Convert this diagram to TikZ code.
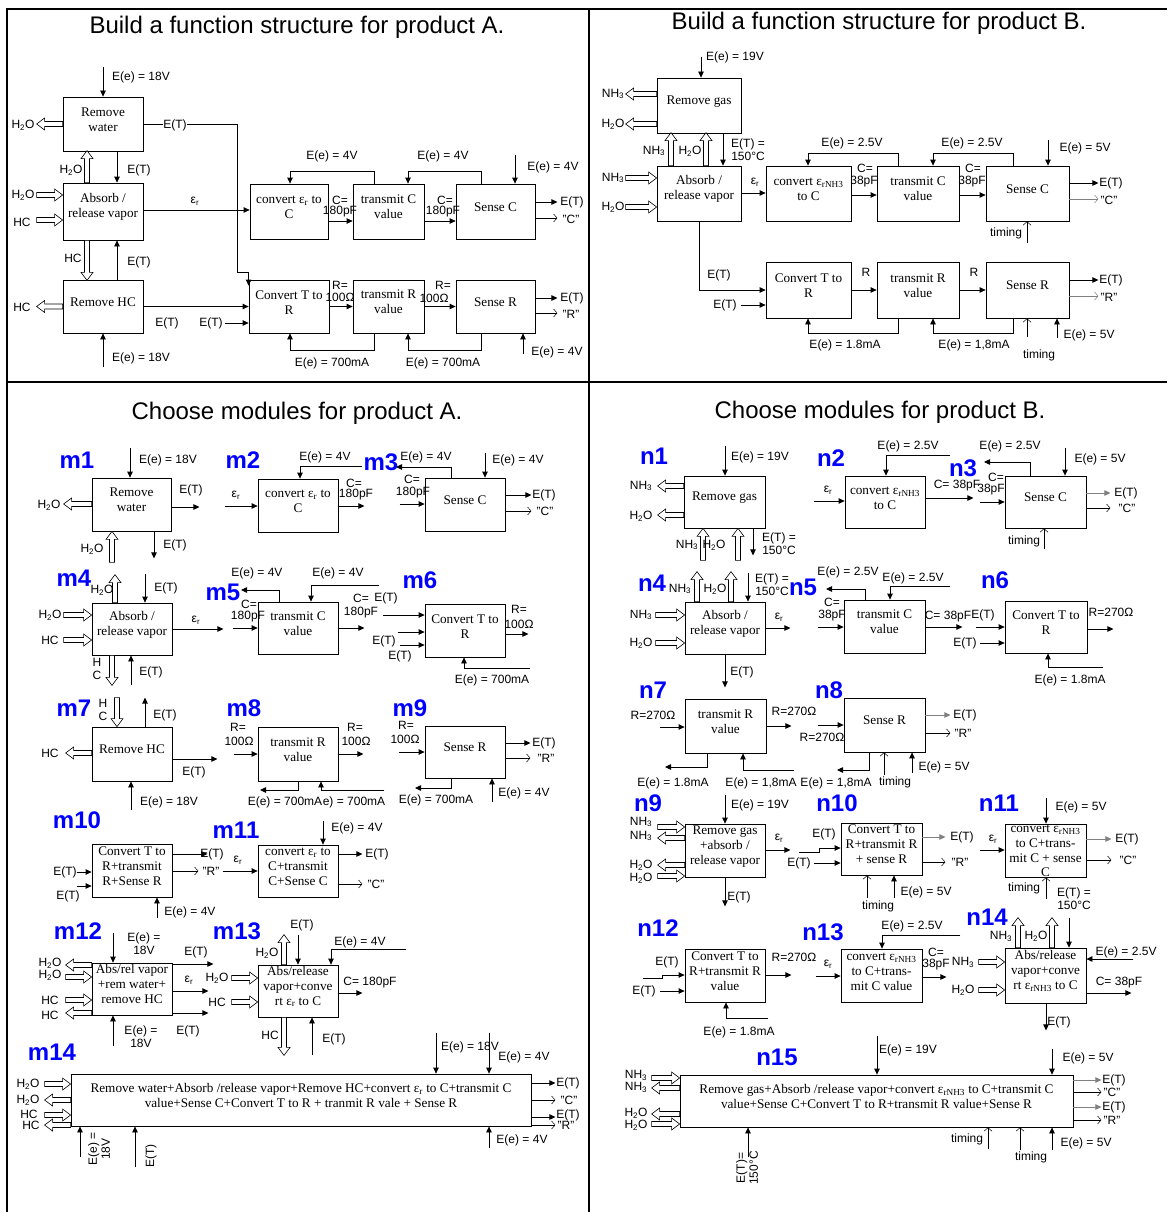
\documentclass[tikz,border=0pt]{standalone}
\usepackage{fontspec}
\setmainfont{Liberation Serif}
\setsansfont{Liberation Sans}
\usepackage{xcolor}
\usetikzlibrary{arrows.meta, calc, fit}
\definecolor{modblue}{RGB}{0,0,255}
\definecolor{outgray}{RGB}{128,128,128}
\newcommand\lf{\sffamily\fontsize{12}{13}\selectfont}
\newcommand\bxf{\rmfamily\fontsize{13.2}{15}\selectfont}
\newcommand\titlef{\sffamily\fontsize{24}{26}\selectfont}
\newcommand\modf{\sffamily\bfseries\fontsize{24}{26}\selectfont}
\newcommand\wat{H\textsubscript{2}O}
\newcommand\amm{NH\textsubscript{3}}
\newcommand\epsr{ε\textsubscript{r}}
\newcommand\epsn{ε\textsubscript{rNH3}}
% hollow material flow arrow from tail #1 to head #2
\newcommand\mfdraw[2]{%
  \coordinate (mfb) at ($(#2)!8pt!(#1)$);
  \draw[flowline] ($(#1)!2.5pt!90:(#2)$) -- ($(mfb)!2.5pt!-90:(#1)$) -- ($(mfb)!6pt!-90:(#1)$) -- (#2)
    -- ($(mfb)!6pt!90:(#1)$) -- ($(mfb)!2.5pt!90:(#1)$) -- ($(#1)!2.5pt!-90:(#2)$) -- cycle;}
\newcommand\flowin[2]{\coordinate (mfh) at (#1); \coordinate (mft) at ($(mfh)+(#2)$); \mfdraw{mft}{mfh}}
\newcommand\flowout[2]{\coordinate (mft) at (#1); \coordinate (mfh) at ($(mft)+(#2)$); \mfdraw{mft}{mfh}}
\tikzset{
  blk/.style={draw, line width=0.8pt, inner sep=0pt, align=center, font=\bxf},
  boxtxt/.style={inner sep=0pt, align=center, font=\bxf},
  lbl/.style={inner sep=0.5pt, align=center, font=\lf},
  modlbl/.style={inner sep=0pt, font=\modf, text=modblue},
  ttl/.style={inner sep=0pt, font=\titlef},
  arr/.style={line width=0.8pt, -{Triangle[length=6pt,width=5.5pt]}},
  sig/.style={line width=0.5pt, -{Straight Barb[length=3.5pt,width=8pt]}},
  flowline/.style={line width=0.6pt, fill=white},
  frame/.style={line width=2pt},
}
\begin{document}
\begin{tikzpicture}[x=1pt, y=-1pt]
\fill[white] (0,0) rectangle (1167,1212);
\useasboundingbox (0,0) rectangle (1167,1212);
\draw[frame] (7,1212) -- (7,9) -- (1167,9);
\draw[frame] (589,9) -- (589,1212);
\draw[frame] (7,382) -- (1167,382);

% Product A -- function structure
\node[ttl] (tA) at (297,27) {Build a function structure for product A.};
\node[blk, fit={(63,97) (143,151)}] (rw) {Remove\\water};
\node[blk, fit={(63,183) (143,240)}] (ab) {Absorb /\\release vapor};
\node[blk, fit={(63,280) (143,333)}] (rh) {Remove HC};
\node[blk, fit={(250,184) (328,239)}] (cc) {convert \epsr{} to\\C};
\node[blk, fit={(353,184) (424,239)}] (tc) {transmit C\\value};
\node[blk, fit={(456,184) (535,239)}] (sc) {Sense C};
\node[blk, fit={(249,280) (329,333)}] (ct) {Convert T to\\R};
\node[blk, fit={(353,280) (424,333)}] (tr) {transmit R\\value};
\node[blk, fit={(456,280) (535,333)}] (sr) {Sense R};

\draw[arr] ($(rw.north)+(0,-30)$) -- (rw.north);
\flowout{rw.west}{-26,0}
\draw[arr] (rw.east) -| (237,272) -| ([yshift=-6pt]ct.north west);
\draw[arr] (rw.south -| 117,0) -- (ab.north -| 117,0);
\flowout{ab.north -| 87,0}{0,-32}
\flowin{ab.west |- 0,195}{-26,0}
\flowin{ab.west |- 0,220}{-26,0}
\draw[arr] (ab.east |- 0,210) -- (cc.west |- 0,210);
\flowout{ab.south -| 87,0}{0,40}
\draw[arr] (rh.north -| 117,0) -- (ab.south -| 117,0);
\flowout{rh.west}{-26,0}
\draw[arr] (rh.east) -- (ct.west |- rh.east);
\draw[arr] ($(ct.west |- 0,323)+(-24,0)$) -- (ct.west |- 0,323);
\draw[arr] ($(rh.south)+(0,34)$) -- (rh.south);
\draw[arr] (tc.north -| 374,0) |- (290,171) -- (cc.north -| 290,0);
\draw[arr] (cc.east |- 0,221) -- (tc.west |- 0,221);
\draw[arr] (sc.north -| 481,0) |- (408,171) -- (tc.north -| 408,0);
\draw[arr] (tc.east |- 0,221) -- (sc.west |- 0,221);
\draw[arr] ($(sc.north -| 515,0)+(0,-29)$) -- (sc.north -| 515,0);
\draw[arr] (sc.east |- 0,202) -- ++(22,0);
\draw[sig] (sc.east |- 0,218) -- ++(22,0);
\draw[arr] (ct.east) -- (tr.west |- ct.east);
\draw[arr] (tr.east) -- (sr.west |- tr.east);
\draw[arr] (sr.east |- 0,298) -- ++(22,0);
\draw[sig] (sr.east |- 0,313) -- ++(22,0);
\draw[arr] (tr.south -| 374,0) |- (290,350) -- (ct.south -| 290,0);
\draw[arr] (sr.south -| 481,0) |- (408,350) -- (tr.south -| 408,0);
\draw[arr] ($(sr.south -| 523,0)+(0,21)$) -- (sr.south -| 523,0);

\node[lbl] (p1) at (141,77) {E(e) = 18V};
\node[lbl] (p2) at (23,125) {\wat};
\node[lbl, fill=white] (p3) at (175,125) {E(T)};
\node[lbl] (p4) at (139,170) {E(T)};
\node[lbl] (p5) at (71,170) {\wat};
\node[lbl] (p6) at (23,195) {\wat};
\node[lbl] (p7) at (22,222) {HC};
\node[lbl] (p8) at (195,201) {\epsr};
\node[lbl] (p9) at (73,258) {HC};
\node[lbl] (p10) at (139,262) {E(T)};
\node[lbl] (p11) at (22,307) {HC};
\node[lbl] (p12) at (167,323) {E(T)};
\node[lbl] (p13) at (211,323) {E(T)};
\node[lbl] (p14) at (141,358) {E(e) = 18V};
\node[lbl] (p15) at (332,156) {E(e) = 4V};
\node[lbl] (p16) at (340,200) {C=};
\node[lbl] (p17) at (340,212) {180pF};
\node[lbl] (p18) at (443,156) {E(e) = 4V};
\node[lbl] (p19) at (445,200) {C=};
\node[lbl] (p20) at (443,212) {180pF};
\node[lbl] (p21) at (553,167) {E(e) = 4V};
\node[lbl] (p22) at (572,202) {E(T)};
\node[lbl] (p23) at (571,219) {"C"};
\node[lbl] (p24) at (340,285) {R=};
\node[lbl] (p25) at (340,297) {100Ω};
\node[lbl] (p26) at (443,285) {R=};
\node[lbl] (p27) at (434,298) {100Ω};
\node[lbl] (p28) at (572,298) {E(T)};
\node[lbl] (p29) at (571,314) {"R"};
\node[lbl] (p30) at (332,363) {E(e) = 700mA};
\node[lbl] (p31) at (443,363) {E(e) = 700mA};
\node[lbl] (p32) at (557,352) {E(e) = 4V};

% Product B -- function structure
\node[ttl] (tB) at (879,23) {Build a function structure for product B.};
\node[blk, fit={(657,78) (741,133)}] (rg) {Remove gas};
\node[blk, fit={(657,166) (741,221)}] (ag) {Absorb /\\release vapor};
\node[blk, fit={(766,166) (851,221)}] (cn) {convert \epsn\\to C};
\node[blk, fit={(877,166) (959,221)}] (tcb) {transmit C\\value};
\node[blk, fit={(986,166) (1069,221)}] (scb) {Sense C};
\node[blk, fit={(766,262) (851,318)}] (ctb) {Convert T to\\R};
\node[blk, fit={(877,262) (959,318)}] (trb) {transmit R\\value};
\node[blk, fit={(986,262) (1069,318)}] (srb) {Sense R};

\draw[arr] ($(rg.north -| 701,0)+(0,-21)$) -- (rg.north -| 701,0);
\flowout{rg.west |- 0,94}{-31,0}
\flowout{rg.west |- 0,124}{-31,0}
\flowout{ag.north -| 671,0}{0,-33}
\flowout{ag.north -| 706,0}{0,-33}
\draw[arr] (rg.south -| 723,0) -- (ag.north -| 723,0);
\flowin{ag.west |- 0,178}{-31,0}
\flowin{ag.west |- 0,207}{-31,0}
\draw[arr] (ag.east |- 0,193) -- (cn.west |- 0,193);
\draw[arr] (tcb.north -| 898,0) |- (808,153) -- (cn.north -| 808,0);
\draw[arr] (cn.east |- 0,195) -- (tcb.west |- 0,195);
\draw[arr] (scb.north -| 1013,0) |- (933,153) -- (tcb.north -| 933,0);
\draw[arr] (tcb.east |- 0,195) -- (scb.west |- 0,195);
\draw[arr] ($(scb.north -| 1048,0)+(0,-26)$) -- (scb.north -| 1048,0);
\draw[arr] (scb.east |- 0,183) -- ++(29,0);
\draw[sig, outgray] (scb.east |- 0,199) -- ++(29,0);
\draw[sig] ($(scb.south -| 1027,0)+(0,22)$) -- (scb.south -| 1027,0);
\draw[arr] (ag.south) |- (ctb.west |- 0,290);
\draw[arr] ($(ctb.west |- 0,305)+(-25,0)$) -- (ctb.west |- 0,305);
\draw[arr] (ctb.east |- 0,290) -- (trb.west |- 0,290);
\draw[arr] (trb.east |- 0,290) -- (srb.west |- 0,290);
\draw[arr] (trb.south -| 898,0) |- (808,333) -- (ctb.south -| 808,0);
\draw[arr] (srb.south -| 1013,0) |- (933,333) -- (trb.south -| 933,0);
\draw[sig] ($(srb.south -| 1027,0)+(0,19)$) -- (srb.south -| 1027,0);
\draw[arr] ($(srb.south -| 1057,0)+(0,20)$) -- (srb.south -| 1057,0);
\draw[arr] (srb.east |- 0,280) -- ++(29,0);
\draw[sig, outgray] (srb.east |- 0,296) -- ++(29,0);

\node[lbl] (q1) at (735,57) {E(e) = 19V};
\node[lbl] (q2) at (613,94) {\amm};
\node[lbl] (q3) at (613,124) {\wat};
\node[lbl] (q4) at (654,151) {\amm};
\node[lbl] (q5) at (690,151) {\wat};
\node[lbl] (q6) at (748,150) {E(T) =\\150°C};
\node[lbl] (q7) at (613,178) {\amm};
\node[lbl] (q8) at (613,207) {\wat};
\node[lbl] (q9) at (755,182) {\epsr};
\node[lbl] (q10) at (852,143) {E(e) = 2.5V};
\node[lbl] (q11) at (865,168) {C=};
\node[lbl] (q12) at (864,182) {38pF};
\node[lbl] (q13) at (972,143) {E(e) = 2.5V};
\node[lbl] (q14) at (973,168) {C=};
\node[lbl] (q15) at (972,182) {38pF};
\node[lbl] (q16) at (1085,148) {E(e) = 5V};
\node[lbl] (q17) at (1111,183) {E(T)};
\node[lbl] (q18) at (1109,200) {"C"};
\node[lbl] (q19) at (1006,233) {timing};
\node[lbl] (q20) at (719,275) {E(T)};
\node[lbl] (q21) at (725,305) {E(T)};
\node[lbl] (q22) at (866,272) {R};
\node[lbl] (q23) at (974,272) {R};
\node[lbl] (q24) at (845,345) {E(e) = 1.8mA};
\node[lbl] (q25) at (974,345) {E(e) = 1,8mA};
\node[lbl] (q26) at (1039,355) {timing};
\node[lbl] (q27) at (1089,335) {E(e) = 5V};
\node[lbl] (q28) at (1111,280) {E(T)};
\node[lbl] (q29) at (1109,297) {"R"};

% Product A -- modules
\node[ttl] (tmA) at (297,413) {Choose modules for product A.};
\node[blk, fit={(92,478) (171,531)}] (m1b) {Remove\\water};
\node[blk, fit={(258,479) (338,532)}] (m2b) {convert \epsr{} to\\C};
\node[blk, fit={(425,478) (505,531)}] (m3b) {Sense C};
\node[blk, fit={(92,603) (172,655)}] (m4b) {Absorb /\\release vapor};
\node[blk, fit={(258,602) (338,654)}] (m5b) {transmit C\\value};
\node[blk, fit={(425,604) (505,657)}] (m6b) {Convert T to\\R};
\node[blk, fit={(92,727) (172,781)}] (m7b) {Remove HC};
\node[blk, fit={(258,727) (338,781)}] (m8b) {transmit R\\value};
\node[blk, fit={(425,726) (505,778)}] (m9b) {Sense R};
\node[blk, fit={(92,844) (172,897)}] (m10b) {Convert T to\\R+transmit\\R+Sense R};
\node[blk, fit={(258,845) (338,897)}] (m11b) {convert \epsr{} to\\C+transmit\\C+Sense C};
\node[blk, fit={(92,963) (172,1015)}] (m12b) {Abs/rel vapor\\+rem water+\\remove HC};
\node[blk, fit={(258,965) (338,1017)}] (m13b) {Abs/release\\vapor+conve\\rt \epsr{} to C};
\node[blk, fit={(71,1074) (531,1126)}] (m14b) {Remove water+Absorb /release vapor+Remove HC+convert \epsr{} to C+transmit C\\value+Sense C+Convert T to R + tranmit R vale + Sense R};

% m1 - m3
\draw[arr] ($(m1b.north -| 130,0)+(0,-30)$) -- (m1b.north -| 130,0);
\flowout{m1b.west |- 0,504}{-28,0}
\draw[arr] (m1b.east |- 0,507) -- ++(28,0);
\flowin{m1b.south -| 112,0}{0,31}
\draw[arr] (m1b.south -| 154,0) -- ++(0,27);
\draw[arr] ($(m2b.west |- 0,506)+(-33,0)$) -- (m2b.west |- 0,506);
\draw[arr] ($(m2b.north east)+(24,-12)$) -| (m2b.north -| 300,0);
\draw[arr] (m2b.east |- 0,506) -- ++(26,0);
\draw[arr] (m3b.north -| 451,0) |- (396,467);
\draw[arr] ($(m3b.west |- 0,504)+(-25,0)$) -- (m3b.west |- 0,504);
\draw[arr] ($(m3b.north -| 485,0)+(0,-25)$) -- (m3b.north -| 485,0);
\draw[arr] (m3b.east |- 0,495) -- ++(26,0);
\draw[sig] (m3b.east |- 0,511) -- ++(26,0);
% m4 - m6
\flowout{m4b.north -| 115,0}{0,-28}
\draw[arr] ($(m4b.north -| 145,0)+(0,-29)$) -- (m4b.north -| 145,0);
\flowin{m4b.west |- 0,615}{-28,0}
\flowin{m4b.west |- 0,640}{-28,0}
\draw[arr] (m4b.east |- 0,629) -- ++(51,0);
\flowout{m4b.south -| 112,0}{0,30}
\draw[arr] ($(m4b.south -| 131,0)+(0,30)$) -- (m4b.south -| 131,0);
\draw[arr] (m5b.north -| 279,0) |- (241,590);
\draw[arr] ($(m5b.north east)+(41,-16)$) -| (m5b.north -| 311,0);
\draw[arr] ($(m5b.west |- 0,628)+(-25,0)$) -- (m5b.west |- 0,628);
\draw[arr] (m5b.east |- 0,628) -- ++(26,0);
\draw[arr] ($(m6b.west |- 0,615)+(-42,0)$) -- (m6b.west |- 0,615);
\draw[arr] ($(m6b.west |- 0,632)+(-27,0)$) -- (m6b.west |- 0,632);
\draw[arr] ($(m6b.west |- 0,645)+(-25,0)$) -- (m6b.west |- 0,645);
\draw[arr] (m6b.east |- 0,634) -- ++(23,0);
\draw[arr] ($(m6b.south east)+(25,11)$) -| (m6b.south -| 464,0);
% m7 - m9
\flowin{m7b.north -| 117,0}{0,-29}
\draw[arr] (m7b.north -| 145,0) -- ++(0,-29);
\flowout{m7b.west |- 0,753}{-26,0}
\draw[arr] (m7b.east |- 0,759) -- ++(45,0);
\draw[arr] ($(m7b.south -| 131,0)+(0,29)$) -- (m7b.south -| 131,0);
\draw[arr] ($(m8b.west |- 0,754)+(-24,0)$) -- (m8b.west |- 0,754);
\draw[arr] (m8b.east |- 0,754) -- ++(25,0);
\draw[arr] (m8b.south -| 298,0) |- (260,790);
\draw[arr] ($(m8b.south east)+(46,9)$) -| (m8b.south -| 321,0);
\draw[arr] ($(m9b.west |- 0,752)+(-26,0)$) -- (m9b.west |- 0,752);
\draw[arr] (m9b.east |- 0,743) -- ++(25,0);
\draw[sig] (m9b.east |- 0,758) -- ++(25,0);
\draw[arr] (m9b.south -| 451,0) |- (415,788);
\draw[arr] ($(m9b.south -| 492,0)+(0,24)$) -- (m9b.south -| 492,0);
% m10 - m11
\draw[arr] (m10b.east |- 0,854) -- ++(35,0);
\draw[sig] (m10b.east |- 0,871) -- ++(26,0);
\draw[arr] ($(m10b.west |- 0,872)+(-15,0)$) -- (m10b.west |- 0,872);
\draw[arr] ($(m10b.west |- 0,886)+(-15,0)$) -- (m10b.west |- 0,886);
\draw[arr] ($(m10b.south -| 157,0)+(0,21)$) -- (m10b.south -| 157,0);
\draw[arr] ($(m11b.west |- 0,871)+(-35,0)$) -- (m11b.west |- 0,871);
\draw[arr] ($(m11b.north -| 323,0)+(0,-24)$) -- (m11b.north -| 323,0);
\draw[arr] (m11b.east |- 0,854) -- ++(24,0);
\draw[sig] (m11b.east |- 0,884) -- ++(24,0);
% m12 - m13
\draw[arr] ($(m12b.north -| 113,0)+(0,-30)$) -- (m12b.north -| 113,0);
\draw[arr] (m12b.east |- 0,964) -- ++(41,0);
\draw[arr] (m12b.east |- 0,991) -- ++(36,0);
\draw[arr] (m12b.east |- 0,1013) -- ++(36,0);
\flowout{m12b.west |- 0,965}{-26,0}
\flowin{m12b.west |- 0,977}{-26,0}
\flowin{m12b.west |- 0,1000}{-26,0}
\flowout{m12b.west |- 0,1013}{-26,0}
\draw[arr] ($(m12b.south -| 113,0)+(0,31)$) -- (m12b.south -| 113,0);
\flowout{m13b.north -| 284,0}{0,-30}
\draw[arr] ($(m13b.north -| 298,0)+(0,-30)$) -- (m13b.north -| 298,0);
\draw[arr] ($(m13b.north east)+(68,-15)$) -| (m13b.north -| 331,0);
\draw[arr] (m13b.east |- 0,993) -- ++(24,0);
\flowin{m13b.west |- 0,978}{-26,0}
\flowin{m13b.west |- 0,1002}{-26,0}
\flowout{m13b.south -| 284,0}{0,38}
\draw[arr] ($(m13b.south -| 312,0)+(0,38)$) -- (m13b.south -| 312,0);
% m14
\draw[arr] ($(m14b.north -| 436,0)+(0,-41)$) -- (m14b.north -| 436,0);
\draw[arr] ($(m14b.north -| 489,0)+(0,-41)$) -- (m14b.north -| 489,0);
\draw[arr] (m14b.east |- 0,1083) -- ++(24,0);
\draw[sig] (m14b.east |- 0,1100) -- ++(24,0);
\draw[arr] (m14b.east |- 0,1117) -- ++(24,0);
\draw[sig] (m14b.east |- 0,1125) -- ++(24,0);
\flowin{m14b.west |- 0,1084}{-26,0}
\flowout{m14b.west |- 0,1100}{-26,0}
\flowin{m14b.west |- 0,1115}{-26,0}
\flowout{m14b.west |- 0,1125}{-26,0}
\draw[arr] ($(m14b.south -| 80,0)+(0,31)$) -- (m14b.south -| 80,0);
\draw[arr] ($(m14b.south -| 135,0)+(0,41)$) -- (m14b.south -| 135,0);
\draw[arr] ($(m14b.south -| 489,0)+(0,22)$) -- (m14b.south -| 489,0);

\node[modlbl] (m1) at (77,460) {m1};
\node[lbl] (m1a) at (168,460) {E(e) = 18V};
\node[lbl] (m1c) at (49,505) {\wat};
\node[lbl] (m1d) at (191,490) {E(T)};
\node[lbl] (m1e) at (92,549) {\wat};
\node[lbl] (m1f) at (175,545) {E(T)};
\node[modlbl] (m2) at (243,460) {m2};
\node[lbl] (m2a) at (236,495) {\epsr};
\node[lbl] (m2c) at (325,457) {E(e) = 4V};
\node[lbl] (m2d) at (354,483) {C=};
\node[lbl] (m2e) at (356,495) {180pF};
\node[modlbl] (m3) at (381,462) {m3};
\node[lbl] (m3a) at (426,457) {E(e) = 4V};
\node[lbl] (m3c) at (412,479) {C=};
\node[lbl] (m3d) at (413,493) {180pF};
\node[lbl] (m3e) at (518,460) {E(e) = 4V};
\node[lbl] (m3f) at (544,495) {E(T)};
\node[lbl] (m3g) at (545,511) {"C"};
\node[modlbl] (m4) at (74,578) {m4};
\node[lbl] (m4a) at (102,590) {\wat};
\node[lbl] (m4c) at (166,588) {E(T)};
\node[lbl] (m4d) at (50,615) {\wat};
\node[lbl] (m4e) at (50,640) {HC};
\node[lbl] (m4f) at (196,620) {\epsr};
\node[lbl] (m4g) at (97,669) {H\\C};
\node[lbl] (m4h) at (151,672) {E(T)};
\node[modlbl] (m5) at (223,592) {m5};
\node[lbl] (m5a) at (257,573) {E(e) = 4V};
\node[lbl] (m5c) at (338,573) {E(e) = 4V};
\node[lbl] (m5d) at (249,604) {C=};
\node[lbl] (m5e) at (248,617) {180pF};
\node[lbl] (m5f) at (361,598) {C=};
\node[lbl] (m5g) at (361,613) {180pF};
\node[modlbl] (m6) at (420,580) {m6};
\node[lbl] (m6a) at (386,598) {E(T)};
\node[lbl] (m6c) at (384,641) {E(T)};
\node[lbl] (m6d) at (400,656) {E(T)};
\node[lbl] (m6e) at (519,609) {R=};
\node[lbl] (m6f) at (519,624) {100Ω};
\node[lbl] (m6g) at (492,680) {E(e) = 700mA};
\node[modlbl] (m7) at (74,708) {m7};
\node[lbl] (m7a) at (103,710) {H\\C};
\node[lbl] (m7c) at (165,715) {E(T)};
\node[lbl] (m7d) at (50,753) {HC};
\node[lbl] (m7e) at (194,772) {E(T)};
\node[lbl] (m7f) at (169,802) {E(e) = 18V};
\node[modlbl] (m8) at (244,708) {m8};
\node[lbl] (m8a) at (238,727) {R=};
\node[lbl] (m8c) at (239,741) {100Ω};
\node[lbl] (m8d) at (355,727) {R=};
\node[lbl] (m8e) at (356,741) {100Ω};
\node[lbl] (m8f) at (285,802) {E(e) = 700mA};
\node[lbl] (m8g) at (354,802) {e) = 700mA};
\node[modlbl] (m9) at (410,708) {m9};
\node[lbl] (m9a) at (406,725) {R=};
\node[lbl] (m9c) at (405,739) {100Ω};
\node[lbl] (m9d) at (544,743) {E(T)};
\node[lbl] (m9e) at (546,758) {"R"};
\node[lbl] (m9f) at (436,800) {E(e) = 700mA};
\node[lbl] (m9g) at (524,793) {E(e) = 4V};
\node[modlbl] (m10) at (77,820) {m10};
\node[lbl] (m10a) at (212,854) {E(T)};
\node[lbl] (m10c) at (211,871) {"R"};
\node[lbl] (m10d) at (65,872) {E(T)};
\node[lbl] (m10e) at (68,896) {E(T)};
\node[lbl] (m10f) at (190,912) {E(e) = 4V};
\node[modlbl] (m11) at (236,830) {m11};
\node[lbl] (m11a) at (238,860) {\epsr};
\node[lbl] (m11c) at (357,828) {E(e) = 4V};
\node[lbl] (m11d) at (377,854) {E(T)};
\node[lbl] (m11e) at (376,884) {"C"};
\node[modlbl] (m12) at (78,931) {m12};
\node[lbl] (m12a) at (144,944) {E(e) =\\18V};
\node[lbl] (m12c) at (196,952) {E(T)};
\node[lbl] (m12d) at (189,980) {\epsr};
\node[lbl] (m12e) at (188,1031) {E(T)};
\node[lbl] (m12f) at (50,963) {\wat};
\node[lbl] (m12g) at (50,975) {\wat};
\node[lbl] (m12h) at (50,1000) {HC};
\node[lbl] (m12i) at (50,1015) {HC};
\node[lbl] (m12j) at (141,1037) {E(e) =\\18V};
\node[modlbl] (m13) at (237,931) {m13};
\node[lbl] (m13a) at (267,953) {\wat};
\node[lbl] (m13c) at (302,925) {E(T)};
\node[lbl] (m13d) at (360,942) {E(e) = 4V};
\node[lbl] (m13e) at (370,983) {C= 180pF};
\node[lbl] (m13f) at (217,978) {\wat};
\node[lbl] (m13g) at (217,1002) {HC};
\node[lbl] (m13h) at (270,1035) {HC};
\node[lbl] (m13i) at (334,1039) {E(T)};
\node[modlbl] (m14) at (52,1052) {m14};
\node[lbl] (m14a) at (470,1047) {E(e) = 18V};
\node[lbl] (m14c) at (524,1057) {E(e) = 4V};
\node[lbl] (m14d) at (568,1083) {E(T)};
\node[lbl] (m14e) at (569,1100) {"C"};
\node[lbl] (m14f) at (568,1115) {E(T)};
\node[lbl] (m14g) at (566,1125) {"R"};
\node[lbl] (m14h) at (28,1084) {\wat};
\node[lbl] (m14i) at (28,1100) {\wat};
\node[lbl] (m14j) at (29,1114) {HC};
\node[lbl] (m14k) at (31,1125) {HC};
\node[lbl, rotate=90] (m14l) at (99,1149) {E(e) =\\18V};
\node[lbl, rotate=90] (m14m) at (151,1156) {E(T)};
\node[lbl] (m14n) at (522,1140) {E(e) = 4V};

% Product B -- modules
\node[ttl] (tmB) at (880,412) {Choose modules for product B.};
\node[blk, fit={(684,476) (765,528)}] (n1b) {Remove gas};
\node[blk, fit={(845,476) (925,528)}] (n2b) {convert \epsn\\to C};
\node[blk, fit={(1005,476) (1086,528)}] (n3b) {Sense C};
\node[blk, fit={(685,602) (765,654)}] (n4b) {Absorb /\\release vapor};
\node[blk, fit={(844,600) (925,653)}] (n5b) {transmit C\\value};
\node[blk, fit={(1005,601) (1087,653)}] (n6b) {Convert T to\\R};
\node[blk, fit={(685,699) (766,753)}] (n7b) {transmit R\\value};
\node[blk, fit={(844,698) (925,752)}] (n8b) {Sense R};
\node[blk, fit={(685,824) (765,877)}] (n9b) {Remove gas\\+absorb /\\release vapor};
\node[blk, fit={(841,823) (922,875)}] (n10b) {Convert T to\\R+transmit R\\+ sense R};
\node[blk, fit={(1005,824) (1086,877)}] (n11b) {};
\node[boxtxt, font=\rmfamily\fontsize{13.2}{14.8}\selectfont] (n11t) at (1045.5,851) {convert \epsn\\to C+trans-\\mit C + sense\\C};
\node[blk, fit={(685,949) (765,1002)}] (n12b) {Convert T to\\R+transmit R\\value};
\node[blk, fit={(841,949) (922,1002)}] (n13b) {convert \epsn\\to C+trans-\\mit C value};
\node[blk, fit={(1005,948) (1086,1003)}] (n14b) {Abs/release\\vapor+conve\\rt \epsn{} to C};
\node[blk, fit={(680,1075) (1073,1127)}] (n15b) {Remove gas+Absorb /release vapor+convert \epsn{} to C+transmit C\\value+Sense C+Convert T to R+transmit R value+Sense R};

% n1 - n3
\draw[arr] ($(n1b.north -| 725,0)+(0,-30)$) -- (n1b.north -| 725,0);
\flowout{n1b.west |- 0,486}{-26,0}
\flowout{n1b.west |- 0,515}{-26,0}
\flowin{n1b.south -| 703,0}{0,32}
\flowin{n1b.south -| 738,0}{0,32}
\draw[arr] (n1b.south -| 753,0) -- ++(0,27);
\draw[arr] ($(n2b.north east)+(25,-20)$) -| (n2b.north -| 886,0);
\draw[arr] ($(n2b.west |- 0,501)+(-31,0)$) -- (n2b.west |- 0,501);
\draw[arr] (n2b.east |- 0,498) -- ++(48,0);
\draw[arr] (n3b.north -| 1030,0) |- (984,462);
\draw[arr] ($(n3b.west |- 0,502)+(-25,0)$) -- (n3b.west |- 0,502);
\draw[arr] ($(n3b.north -| 1065,0)+(0,-28)$) -- (n3b.north -| 1065,0);
\draw[arr, outgray] (n3b.east |- 0,493) -- ++(24,0);
\draw[sig] (n3b.east |- 0,508) -- ++(24,0);
\draw[sig] ($(n3b.south -| 1044,0)+(0,21)$) -- (n3b.south -| 1044,0);
% n4 - n6
\flowout{n4b.north -| 697,0}{0,-30}
\flowout{n4b.north -| 731,0}{0,-30}
\draw[arr] ($(n4b.north -| 748,0)+(0,-29)$) -- (n4b.north -| 748,0);
\flowin{n4b.west |- 0,615}{-29,0}
\flowin{n4b.west |- 0,643}{-29,0}
\draw[arr] (n4b.east |- 0,628) -- ++(25,0);
\draw[arr] (n4b.south -| 725,0) -- ++(0,33);
\draw[arr] (n5b.north -| 865,0) |- (826,589);
\draw[arr] ($(n5b.north east)+(25,-13)$) -| (n5b.north -| 890,0);
\draw[arr] ($(n5b.west |- 0,627)+(-26,0)$) -- (n5b.west |- 0,627);
\draw[arr] (n5b.east |- 0,627) -- ++(37,0);
\draw[arr] ($(n6b.west |- 0,627)+(-29,0)$) -- (n6b.west |- 0,627);
\draw[arr] ($(n6b.west |- 0,643)+(-25,0)$) -- (n6b.west |- 0,643);
\draw[arr] (n6b.east |- 0,629) -- ++(26,0);
\draw[arr] ($(n6b.south east)+(16,14)$) -| (n6b.south -| 1048,0);
% n7 - n8
\draw[arr] ($(n7b.west |- 0,727)+(-25,0)$) -- (n7b.west |- 0,727);
\draw[arr] (n7b.east |- 0,726) -- ++(25,0);
\draw[arr] (n7b.south -| 707,0) |- (665,767);
\draw[arr] ($(n7b.south east)+(28,17)$) -| (n7b.south -| 743,0);
\draw[arr] ($(n8b.west |- 0,725)+(-26,0)$) -- (n8b.west |- 0,725);
\draw[arr, outgray] (n8b.east |- 0,715) -- ++(25,0);
\draw[sig] (n8b.east |- 0,733) -- ++(25,0);
\draw[arr] (n8b.south -| 869,0) |- (837,770);
\draw[sig] ($(n8b.south -| 884,0)+(0,23)$) -- (n8b.south -| 884,0);
\draw[arr] ($(n8b.south -| 912,0)+(0,21)$) -- (n8b.south -| 912,0);
% n9 - n11
\draw[arr] ($(n9b.north -| 725,0)+(0,-29)$) -- (n9b.north -| 725,0);
\flowin{n9b.west |- 0,827}{-27,0}
\flowout{n9b.west |- 0,838}{-27,0}
\flowout{n9b.west |- 0,865}{-27,0}
\flowin{n9b.west |- 0,876}{-27,0}
\draw[arr] (n9b.east |- 0,850) -- ++(25,0);
\draw[arr] (n9b.south -| 725,0) -- ++(0,29);
\draw[arr] ($(n10b.west |- 0,852)+(-42,0)$) -- ++(21,0) |- (n10b.west |- 0,848);
\draw[arr] ($(n10b.west |- 0,863)+(-27,0)$) -- (n10b.west |- 0,863);
\draw[arr, outgray] (n10b.east |- 0,837) -- ++(23,0);
\draw[sig] (n10b.east |- 0,862) -- ++(23,0);
\draw[sig] ($(n10b.south -| 867,0)+(0,23)$) -- (n10b.south -| 867,0);
\draw[arr] ($(n10b.south -| 894,0)+(0,23)$) -- (n10b.south -| 894,0);
\draw[arr] ($(n11b.north -| 1046,0)+(0,-26)$) -- (n11b.north -| 1046,0);
\draw[arr] ($(n11b.west |- 0,850)+(-25,0)$) -- (n11b.west |- 0,850);
\draw[arr, outgray] (n11b.east |- 0,839) -- ++(25,0);
\draw[sig] (n11b.east |- 0,860) -- ++(25,0);
\draw[sig] ($(n11b.south -| 1046,0)+(0,22)$) -- (n11b.south -| 1046,0);
% n12 - n14
\draw[arr] ($(n12b.west |- 0,978)+(-42,0)$) -- ++(20,0) |- (n12b.west |- 0,975);
\draw[arr] ($(n12b.west |- 0,991)+(-25,0)$) -- (n12b.west |- 0,991);
\draw[arr] (n12b.east |- 0,975) -- ++(26,0);
\draw[arr] ($(n12b.south east)+(3,16)$) -| (n12b.south -| 726,0);
\draw[arr] ($(n13b.north east)+(38,-13)$) -| (n13b.north -| 882,0);
\draw[arr] ($(n13b.west |- 0,976)+(-25,0)$) -- (n13b.west |- 0,976);
\draw[arr] (n13b.east |- 0,977) -- ++(24,0);
\flowout{n14b.north -| 1018,0}{0,-30}
\flowout{n14b.north -| 1052,0}{0,-30}
\draw[arr] ($(n14b.north -| 1069,0)+(0,-30)$) -- (n14b.north -| 1069,0);
\draw[arr] ($(n14b.east |- 0,959)+(47,0)$) -- (n14b.east |- 0,959);
\draw[arr] (n14b.east |- 0,993) -- ++(45,0);
\flowin{n14b.west |- 0,962}{-26,0}
\flowin{n14b.west |- 0,990}{-26,0}
\draw[arr] (n14b.south -| 1046,0) -- ++(0,27);
% n15
\draw[arr] ($(n15b.north -| 877,0)+(0,-39)$) -- (n15b.north -| 877,0);
\draw[arr] ($(n15b.north -| 1052,0)+(0,-26)$) -- (n15b.north -| 1052,0);
\draw[arr, outgray] (n15b.east |- 0,1080) -- ++(28,0);
\draw[sig] (n15b.east |- 0,1092) -- ++(28,0);
\draw[arr, outgray] (n15b.east |- 0,1107) -- ++(28,0);
\draw[sig] (n15b.east |- 0,1120) -- ++(28,0);
\flowin{n15b.west |- 0,1078}{-28,0}
\flowout{n15b.west |- 0,1088}{-28,0}
\flowout{n15b.west |- 0,1114}{-28,0}
\flowin{n15b.west |- 0,1124}{-28,0}
\draw[arr] ($(n15b.south -| 748,0)+(0,30)$) -- (n15b.south -| 748,0);
\draw[sig] ($(n15b.south -| 988,0)+(0,22)$) -- (n15b.south -| 988,0);
\draw[sig] ($(n15b.south -| 1020,0)+(0,23)$) -- (n15b.south -| 1020,0);
\draw[arr] ($(n15b.south -| 1052,0)+(0,23)$) -- (n15b.south -| 1052,0);

\node[modlbl] (n1) at (654,456) {n1};
\node[lbl] (n1a) at (760,457) {E(e) = 19V};
\node[lbl] (n1c) at (641,486) {\amm};
\node[lbl] (n1d) at (641,516) {\wat};
\node[lbl] (n1e) at (687,545) {\amm};
\node[lbl] (n1f) at (714,545) {\wat};
\node[lbl] (n1g) at (779,544) {E(T) =\\150°C};
\node[modlbl] (n2) at (831,458) {n2};
\node[lbl] (n2a) at (908,446) {E(e) = 2.5V};
\node[lbl] (n2c) at (828,490) {\epsr};
\node[lbl] (n2d) at (957,486) {C= 38pF};
\node[modlbl] (n3) at (963,468) {n3};
\node[lbl] (n3a) at (1010,446) {E(e) = 2.5V};
\node[lbl] (n3c) at (996,477) {C=};
\node[lbl] (n3d) at (991,490) {38pF};
\node[lbl] (n3e) at (1100,459) {E(e) = 5V};
\node[lbl] (n3f) at (1126,493) {E(T)};
\node[lbl] (n3g) at (1127,508) {"C"};
\node[lbl] (n3h) at (1024,541) {timing};
\node[modlbl] (n4) at (652,583) {n4};
\node[lbl] (n4a) at (680,589) {\amm};
\node[lbl] (n4c) at (715,589) {\wat};
\node[lbl] (n4d) at (772,585) {E(T) =\\150°C};
\node[lbl] (n4e) at (641,615) {\amm};
\node[lbl] (n4f) at (641,643) {\wat};
\node[lbl] (n4g) at (779,617) {\epsr};
\node[lbl] (n4h) at (742,672) {E(T)};
\node[modlbl] (n5) at (803,587) {n5};
\node[lbl] (n5a) at (848,572) {E(e) = 2.5V};
\node[lbl] (n5c) at (913,578) {E(e) = 2.5V};
\node[lbl] (n5d) at (832,602) {C=};
\node[lbl] (n5e) at (832,616) {38pF};
\node[lbl] (n5f) at (948,617) {C= 38pF};
\node[modlbl] (n6) at (995,580) {n6};
\node[lbl] (n6a) at (983,615) {E(T)};
\node[lbl] (n6c) at (965,643) {E(T)};
\node[lbl] (n6d) at (1111,612) {R=270Ω};
\node[lbl] (n6e) at (1070,680) {E(e) = 1.8mA};
\node[modlbl] (n7) at (653,690) {n7};
\node[lbl] (n7a) at (653,715) {R=270Ω};
\node[lbl] (n7c) at (794,711) {R=270Ω};
\node[lbl] (n7d) at (673,783) {E(e) = 1.8mA};
\node[lbl] (n7e) at (761,783) {E(e) = 1,8mA};
\node[modlbl] (n8) at (829,690) {n8};
\node[lbl] (n8a) at (822,737) {R=270Ω};
\node[lbl] (n8c) at (965,715) {E(T)};
\node[lbl] (n8d) at (963,733) {"R"};
\node[lbl] (n8e) at (836,783) {E(e) = 1,8mA};
\node[lbl] (n8f) at (895,782) {timing};
\node[lbl] (n8g) at (944,767) {E(e) = 5V};
\node[modlbl] (n9) at (648,803) {n9};
\node[lbl] (n9a) at (760,805) {E(e) = 19V};
\node[lbl] (n9c) at (641,822) {\amm};
\node[lbl] (n9d) at (641,836) {\amm};
\node[lbl] (n9e) at (641,865) {\wat};
\node[lbl] (n9f) at (641,878) {\wat};
\node[lbl] (n9g) at (779,838) {\epsr};
\node[lbl] (n9h) at (739,897) {E(T)};
\node[modlbl] (n10) at (837,803) {n10};
\node[lbl] (n10a) at (824,834) {E(T)};
\node[lbl] (n10c) at (799,863) {E(T)};
\node[lbl] (n10d) at (962,837) {E(T)};
\node[lbl] (n10e) at (960,862) {"R"};
\node[lbl] (n10f) at (878,906) {timing};
\node[lbl] (n10g) at (926,892) {E(e) = 5V};
\node[modlbl] (n11) at (999,803) {n11};
\node[lbl] (n11a) at (1081,807) {E(e) = 5V};
\node[lbl] (n11c) at (993,839) {\epsr};
\node[lbl] (n11d) at (1127,839) {E(T)};
\node[lbl] (n11e) at (1128,860) {"C"};
\node[lbl] (n11f) at (1024,888) {timing};
\node[modlbl] (n12) at (658,928) {n12};
\node[lbl] (n12a) at (667,962) {E(T)};
\node[lbl] (n12c) at (644,991) {E(T)};
\node[lbl] (n12d) at (794,957) {R=270Ω};
\node[lbl] (n12e) at (739,1032) {E(e) = 1.8mA};
\node[modlbl] (n13) at (823,932) {n13};
\node[lbl] (n13a) at (912,926) {E(e) = 2.5V};
\node[lbl] (n13c) at (828,964) {\epsr};
\node[lbl] (n13d) at (936,952) {C=};
\node[lbl] (n13e) at (936,965) {38pF};
\node[modlbl] (n14) at (987,917) {n14};
\node[lbl] (n14a) at (1001,936) {\amm};
\node[lbl] (n14c) at (1036,936) {\wat};
\node[lbl] (n14d) at (1074,899) {E(T) =\\150°C};
\node[lbl] (n14e) at (1126,952) {E(e) = 2.5V};
\node[lbl] (n14f) at (1119,983) {C= 38pF};
\node[lbl] (n14g) at (963,962) {\amm};
\node[lbl] (n14h) at (963,990) {\wat};
\node[lbl] (n14i) at (1059,1022) {E(T)};
\node[modlbl] (n15) at (777,1057) {n15};
\node[lbl] (n15a) at (908,1050) {E(e) = 19V};
\node[lbl] (n15c) at (1088,1058) {E(e) = 5V};
\node[lbl] (n15d) at (1114,1080) {E(T)};
\node[lbl] (n15e) at (1112,1092) {"C"};
\node[lbl] (n15f) at (1114,1107) {E(T)};
\node[lbl] (n15g) at (1112,1120) {"R"};
\node[lbl] (n15h) at (636,1075) {\amm};
\node[lbl] (n15i) at (636,1087) {\amm};
\node[lbl] (n15j) at (636,1113) {\wat};
\node[lbl] (n15k) at (636,1125) {\wat};
\node[lbl, rotate=90] (n15l) at (747,1168) {E(T)=\\150°C};
\node[lbl] (n15m) at (967,1139) {timing};
\node[lbl] (n15n) at (1031,1157) {timing};
\node[lbl] (n15o) at (1086,1143) {E(e) = 5V};
\end{tikzpicture}
\end{document}
